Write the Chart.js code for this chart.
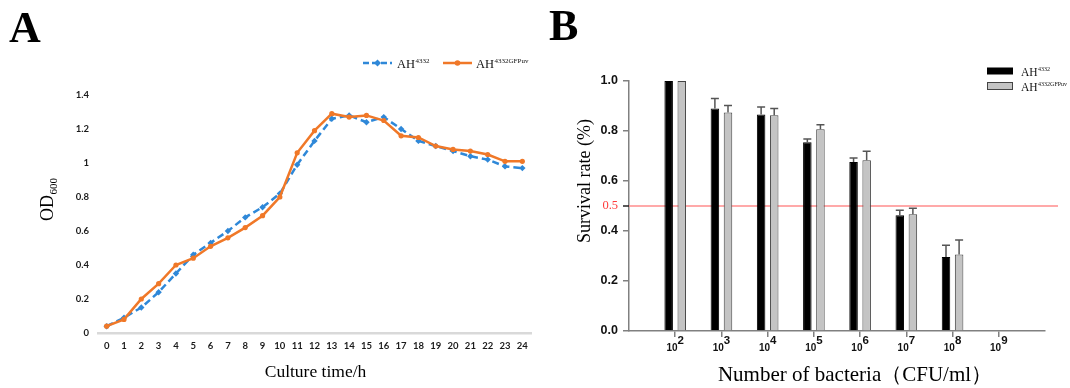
<!DOCTYPE html>
<html>
<head>
<meta charset="utf-8">
<script src="https://cdn.jsdelivr.net/npm/chart.js@4/dist/chart.umd.min.js"></script>
<style>
  html, body { margin: 0; padding: 0; background: #fff; }
  #wrap { position: relative; width: 1070px; height: 388px; overflow: hidden; background: #fff; }
  #cA { position: absolute; left: 0; top: 0; }
  #cB { position: absolute; left: 540px; top: 0; }
</style>
</head>
<body>
<div id="wrap">
  <canvas id="cA" width="540" height="388"></canvas>
  <canvas id="cB" width="530" height="388"></canvas>
</div>
<script>
// ---------- Panel A data ----------
const hours = ['0','1','2','3','4','5','6','7','8','9','10','11','12','13','14','15','16','17','18','19','20','21','22','23','24'];
const odAH4332 = [0.04,0.09,0.15,0.24,0.35,0.46,0.53,0.60,0.68,0.74,0.82,0.99,1.13,1.26,1.28,1.24,1.27,1.20,1.13,1.10,1.07,1.04,1.02,0.98,0.97];
const odAH4332GFPuv = [0.04,0.08,0.20,0.29,0.40,0.44,0.51,0.56,0.62,0.69,0.80,1.06,1.19,1.29,1.27,1.28,1.25,1.16,1.15,1.10,1.08,1.07,1.05,1.01,1.01];
const yTickLabelsA = ['0','0.2','0.4','0.6','0.8','1','1.2','1.4'];
const seriesNames = ['4332', '4332GFPuv'];

// ---------- Panel B data ----------
const bacteriaExp = [2,3,4,5,6,7,8,9];
const survAH4332 = [1.0,0.89,0.866,0.755,0.676,0.463,0.296,null];
const errAH4332 = [0,0.04,0.03,0.013,0.016,0.02,0.047,null];
const survAH4332GFPuv = [1.0,0.874,0.863,0.807,0.683,0.467,0.306,null];
const errAH4332GFPuv = [0,0.028,0.027,0.018,0.036,0.024,0.058,null];
const yTickLabelsB = ['0.0','0.2','0.4','0.6','0.8','1.0'];

const BLUE = '#2f88d8';
const ORANGE = '#f07828';
const SERIF = '"Liberation Serif", "Times New Roman", serif';

function supText(ctx, base, sup, x, y, baseFont, supFont, raise) {
  ctx.font = baseFont;
  ctx.textAlign = 'left';
  ctx.textBaseline = 'alphabetic';
  ctx.fillText(base, x, y);
  const w = ctx.measureText(base).width;
  ctx.font = supFont;
  ctx.fillText(sup, x + w + 0.5, y - raise);
}

// ---------- Panel A ----------
const decorA = {
  id: 'decorA',
  afterDraw(chart) {
    const ctx = chart.ctx;
    const ca = chart.chartArea;
    ctx.save();
    ctx.fillStyle = '#000';
    ctx.font = 'bold 44px ' + SERIF;
    ctx.textBaseline = 'alphabetic';
    ctx.textAlign = 'left';
    ctx.fillText('A', 9, 42);

    // legend
    const ly = 63;
    ctx.strokeStyle = BLUE; ctx.lineWidth = 2.5;
    ctx.setLineDash([6, 3]);
    ctx.beginPath(); ctx.moveTo(363, ly); ctx.lineTo(392, ly); ctx.stroke();
    ctx.setLineDash([]);
    ctx.fillStyle = BLUE;
    ctx.beginPath(); ctx.moveTo(377.5, ly - 3.5); ctx.lineTo(381, ly); ctx.lineTo(377.5, ly + 3.5); ctx.lineTo(374, ly); ctx.closePath(); ctx.fill();
    ctx.fillStyle = '#111';
    supText(ctx, 'AH', seriesNames[0], 397, 67.5, '12.5px ' + SERIF, '7px ' + SERIF, 5);

    ctx.strokeStyle = ORANGE; ctx.lineWidth = 2.5;
    ctx.beginPath(); ctx.moveTo(443, ly); ctx.lineTo(472, ly); ctx.stroke();
    ctx.fillStyle = ORANGE;
    ctx.beginPath(); ctx.arc(457.5, ly, 2.8, 0, Math.PI * 2); ctx.fill();
    ctx.fillStyle = '#111';
    supText(ctx, 'AH', seriesNames[1], 476, 67.5, '12.5px ' + SERIF, '7px ' + SERIF, 5);

    // y title OD600 (rotated)
    ctx.save();
    ctx.translate(53, 221);
    ctx.rotate(-Math.PI / 2);
    ctx.fillStyle = '#000';
    ctx.font = '18px ' + SERIF;
    ctx.textAlign = 'left';
    ctx.textBaseline = 'alphabetic';
    ctx.fillText('OD', 0, 0);
    const w = ctx.measureText('OD').width;
    ctx.font = '11px ' + SERIF;
    ctx.fillText('600', w + 0.5, 4);
    ctx.restore();

    // x title
    ctx.fillStyle = '#000';
    ctx.font = '17.5px ' + SERIF;
    ctx.textAlign = 'center';
    ctx.textBaseline = 'middle';
    ctx.fillText('Culture time/h', (ca.left + ca.right) / 2 + 1, 372);
    ctx.restore();
  }
};

new Chart(document.getElementById('cA'), {
  type: 'line',
  data: {
    labels: hours,
    datasets: [
      {
        label: 'AH' + seriesNames[0],
        data: odAH4332,
        borderColor: BLUE,
        backgroundColor: BLUE,
        borderWidth: 2.5,
        borderDash: [7, 4],
        pointStyle: 'rectRot',
        pointRadius: 3.2,
        pointBorderWidth: 0,
        pointBackgroundColor: BLUE,
        tension: 0,
        order: 1
      },
      {
        label: 'AH' + seriesNames[1],
        data: odAH4332GFPuv,
        borderColor: ORANGE,
        backgroundColor: ORANGE,
        borderWidth: 2.5,
        pointStyle: 'circle',
        pointRadius: 2.6,
        pointBorderWidth: 0,
        pointBackgroundColor: ORANGE,
        tension: 0,
        order: 0
      }
    ]
  },
  options: {
    responsive: false,
    animation: false,
    events: [],
    layout: { padding: { top: 95, right: 9, left: 0, bottom: 0 } },
    plugins: { legend: { display: false }, tooltip: { enabled: false } },
    scales: {
      x: {
        type: 'category',
        offset: true,
        grid: { display: false, drawTicks: false },
        border: { display: true, color: '#d9d9d9', width: 2.5 },
        ticks: { font: { family: 'Lato', weight: 'bold', size: 9.5 }, color: '#1a1a1a', padding: 7, autoSkip: false, maxRotation: 0 },
        afterFit: s => { s.height = 55; }
      },
      y: {
        min: 0, max: 1.4,
        grid: { display: false, drawTicks: false },
        border: { display: false },
        ticks: { stepSize: 0.2, padding: 9, font: { family: 'Lato', weight: 'bold', size: 9.5 }, color: '#1a1a1a',
                 callback: (v, i) => yTickLabelsA[i] },
        afterFit: s => { s.width = 98; }
      }
    }
  },
  plugins: [decorA]
});

// ---------- Panel B ----------
const decorB = {
  id: 'decorB',
  beforeDatasetsDraw(chart) {
    const ctx = chart.ctx;
    const ca = chart.chartArea;
    const y = chart.scales.y.getPixelForValue(0.5);
    ctx.save();
    ctx.strokeStyle = '#ff8c8c';
    ctx.lineWidth = 1.5;
    ctx.beginPath(); ctx.moveTo(ca.left, y); ctx.lineTo(ca.right + 13, y); ctx.stroke();
    ctx.restore();
  },
  afterDatasetsDraw(chart) {
    const ctx = chart.ctx;
    const ys = chart.scales.y;
    const vals = [survAH4332, survAH4332GFPuv];
    const errs = [errAH4332, errAH4332GFPuv];
    ctx.save();
    ctx.strokeStyle = '#555';
    ctx.lineWidth = 1.5;
    [0, 1].forEach(di => {
      const meta = chart.getDatasetMeta(di);
      meta.data.forEach((bar, i) => {
        const e = errs[di][i];
        const v = vals[di][i];
        if (v == null || !e) return;
        const yTop = ys.getPixelForValue(v);
        const yE = ys.getPixelForValue(v + e);
        ctx.beginPath();
        ctx.moveTo(bar.x, yTop); ctx.lineTo(bar.x, yE);
        ctx.moveTo(bar.x - 4, yE); ctx.lineTo(bar.x + 4, yE);
        ctx.stroke();
      });
    });
    ctx.restore();
  },
  afterDraw(chart) {
    const ctx = chart.ctx;
    const ca = chart.chartArea;
    const xs = chart.scales.x;
    const ys = chart.scales.y;
    ctx.save();
    ctx.fillStyle = '#000';
    ctx.font = 'bold 44px ' + SERIF;
    ctx.textAlign = 'left';
    ctx.textBaseline = 'alphabetic';
    ctx.fillText('B', 9, 40);

    // 0.5 label and tick
    const y5 = ys.getPixelForValue(0.5);
    ctx.strokeStyle = '#222';
    ctx.lineWidth = 1.5;
    ctx.beginPath(); ctx.moveTo(ca.left - 6, y5); ctx.lineTo(ca.left, y5); ctx.stroke();
    ctx.fillStyle = '#ff3b3b';
    ctx.font = '12.5px ' + SERIF;
    ctx.textAlign = 'right';
    ctx.textBaseline = 'middle';
    ctx.fillText('0.5', ca.left - 11, y5);

    // x tick labels 10^n
    ctx.fillStyle = '#111';
    bacteriaExp.forEach(n => {
      const x = xs.getPixelForValue(n);
      ctx.font = 'bold 10px "Liberation Sans", Arial, sans-serif';
      const wb = ctx.measureText('10').width;
      ctx.font = 'bold 11.5px "Liberation Sans", Arial, sans-serif';
      const we = ctx.measureText(String(n)).width;
      const x0 = x - (wb + we) / 2;
      ctx.textAlign = 'left';
      ctx.textBaseline = 'alphabetic';
      ctx.font = 'bold 10px "Liberation Sans", Arial, sans-serif';
      ctx.fillText('10', x0, ca.bottom + 20);
      ctx.font = 'bold 11.5px "Liberation Sans", Arial, sans-serif';
      ctx.fillText(String(n), x0 + wb, ca.bottom + 13);
    });

    // legend
    ctx.fillStyle = '#000';
    ctx.fillRect(447, 67.5, 26, 7);
    ctx.fillStyle = '#c4c4c4';
    ctx.fillRect(447, 82.5, 26, 7);
    ctx.strokeStyle = '#444';
    ctx.lineWidth = 1;
    ctx.strokeRect(447.5, 82.5, 25, 7);
    ctx.fillStyle = '#111';
    supText(ctx, 'AH', seriesNames[0], 481, 75.5, '11.5px ' + SERIF, '6px ' + SERIF, 5);
    supText(ctx, 'AH', seriesNames[1], 481, 90.5, '11.5px ' + SERIF, '6px ' + SERIF, 5);

    // y title (rotated)
    ctx.save();
    ctx.translate(45, 181);
    ctx.rotate(-Math.PI / 2);
    ctx.fillStyle = '#000';
    ctx.font = '18px ' + SERIF;
    ctx.textAlign = 'center';
    ctx.textBaseline = 'middle';
    ctx.fillText('Survival rate (%)', 0, 0);
    ctx.restore();

    // x title
    ctx.fillStyle = '#000';
    ctx.font = '21px ' + SERIF;
    ctx.textAlign = 'center';
    ctx.textBaseline = 'middle';
    ctx.fillText('Number of bacteria（CFU/ml）', 315, 375);
    ctx.restore();
  }
};

new Chart(document.getElementById('cB'), {
  type: 'bar',
  data: {
    datasets: [
      {
        label: 'AH' + seriesNames[0],
        data: bacteriaExp.map((n, i) => ({ x: n, y: survAH4332[i] })),
        backgroundColor: '#000',
        borderColor: '#000',
        borderWidth: 1,
        categoryPercentage: 0.567,
        barPercentage: 0.65
      },
      {
        label: 'AH' + seriesNames[1],
        data: bacteriaExp.map((n, i) => ({ x: n, y: survAH4332GFPuv[i] })),
        backgroundColor: '#c4c4c4',
        borderColor: '#444',
        borderWidth: 1,
        categoryPercentage: 0.567,
        barPercentage: 0.65
      }
    ]
  },
  options: {
    responsive: false,
    animation: false,
    events: [],
    layout: { padding: { top: 81, right: 25, left: 0, bottom: 0 } },
    plugins: { legend: { display: false }, tooltip: { enabled: false } },
    scales: {
      x: {
        type: 'linear',
        offset: false,
        min: 1, max: 10,
        ticks: { stepSize: 1, display: false },
        grid: {
          offset: false,
          drawOnChartArea: false, drawTicks: true, tickLength: 6, lineWidth: 1.5,
          tickColor: ctx => (ctx.tick && ctx.tick.value >= 2 && ctx.tick.value <= 9) ? '#808080' : 'rgba(0,0,0,0)'
        },
        border: { display: true, color: '#808080', width: 1.5 },
        afterFit: s => { s.height = 57; }
      },
      y: {
        min: 0, max: 1.0,
        ticks: { stepSize: 0.2, padding: 5, font: { family: 'Liberation Sans', weight: 'bold', size: 12.5 }, color: '#111',
                 callback: (v, i) => yTickLabelsB[i] },
        grid: { drawOnChartArea: false, drawTicks: true, tickLength: 6, tickColor: '#808080', lineWidth: 1.5 },
        border: { display: true, color: '#808080', width: 1.5 },
        afterFit: s => { s.width = 89; }
      }
    }
  },
  plugins: [decorB]
});
</script>
</body>
</html>
